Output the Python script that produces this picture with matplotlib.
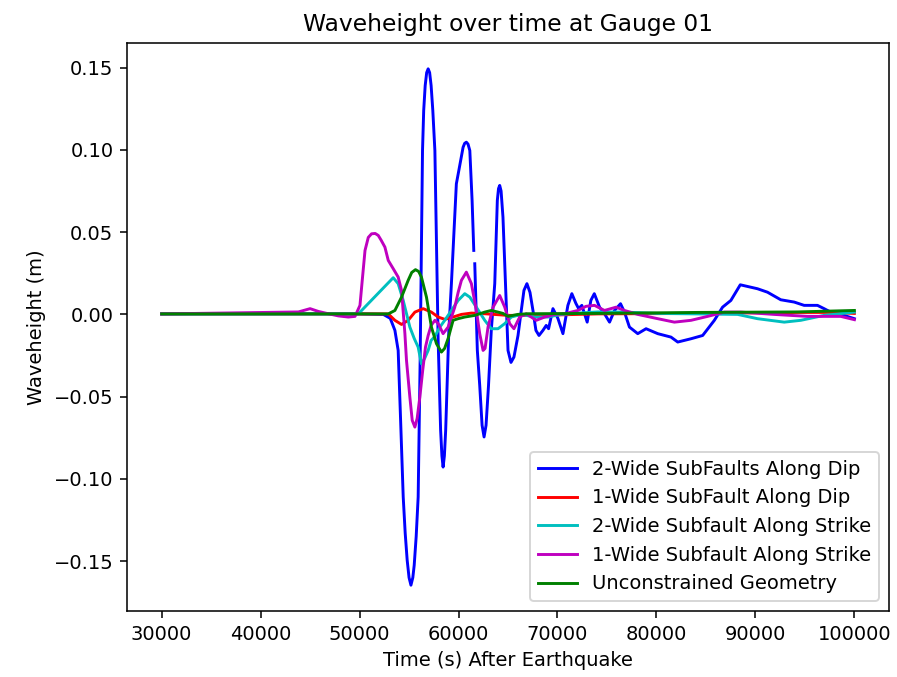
import numpy as np
import matplotlib
matplotlib.use("Agg")
import matplotlib.pyplot as plt

nan = np.nan

# 2-Wide SubFaults Along Dip
t_dip2 = [30000, 43800, 49900, 52400, 53100, 53570, 53900, 54150, 54410, 54610, 54810, 55000, 55190,
          55380, 55520, 55720, 55920, 56120, 56360, 56480, 56630, 56780, 56930, 57080, 57230, 57400,
          57610, 57940, 58190, 58320, 58440, 58570, 58700, 59020, 59280, 59780, 60030, 60460, 60620,
          60790, 60960, 61140, 61370, 61540, 61590, 61640, 61900, 62140, 62380, 62580, 62780, 63030,
          63310, 63660, 63920, 64040, 64160, 64300, 64490, 65000, 65300, 65600, 66010, 66340, 66610,
          66910, 67220, 67520, 67820, 68130, 68530, 68860, 69100, 69540, 70040,
          70550, 71050, 71450, 71860, 72130, 72460, 73000, 73370, 73720, 74250,
          74750, 75260, 75760, 76370, 76770, 77270, 78110, 78950, 80130, 81470,
          82150, 83490, 84670, 85850, 86680, 87520, 88470, 90210, 91220, 92560,
          93920, 94920, 96270, 96940, 97610, 98960, 100000]
h_dip2 = [0.0003, 0.0004, 0.0003, 0.0000, -0.0024, -0.0097, -0.0219, -0.0650, -0.1110, -0.1330, -0.1494, -0.1600, -0.1646,
          -0.1600, -0.1525, -0.1350, -0.1110, -0.0279, 0.0996, 0.1240, 0.1391, 0.1470, 0.1493, 0.1470, 0.1391, 0.1240,
          0.0996, -0.0158, -0.0705, -0.0860, -0.0928, -0.0860, -0.0705, -0.0097, 0.0187, 0.0794, 0.0875, 0.1016, 0.1040,
          0.1047, 0.1035, 0.0996, 0.0693, 0.0389, nan, 0.0308, -0.0219, -0.0431, -0.0674, -0.0745, -0.0674, -0.0431,
          -0.0097, 0.0187, 0.0693, 0.0765, 0.0784, 0.0750, 0.0591, -0.0219, -0.0292, -0.0259, -0.0128, 0.0024, 0.0146,
          0.0187, 0.0134, 0.0024, -0.0097, -0.0128, -0.0097, -0.0067, -0.0087, 0.0035, -0.0024,
          -0.0117, 0.0055, 0.0126, 0.0067, 0.0036, 0.0055, -0.0047, 0.0085, 0.0126, 0.0044,
          0.0004, -0.0047, 0.0024, 0.0065, 0.0014, -0.0077, -0.0117, -0.0087, -0.0117, -0.0138,
          -0.0168, -0.0148, -0.0128, -0.0036, 0.0044, 0.0085, 0.0180, 0.0156, 0.0135, 0.0089,
          0.0075, 0.0055, 0.0055, 0.0035, 0.0014, -0.0006, -0.0026]

# 1-Wide SubFault Along Dip
t_dip1 = [30000, 52900, 53570, 54240, 54910, 55590, 56430, 57260, 57940, 58610,
          59450, 60290, 61300, 62650, 65000, 68020, 74080, 84160, 94250, 97580, 100000]
h_dip1 = [0.0003, 0.0003, -0.0036, -0.0061, -0.0036, 0.0014, 0.0035, 0.0014, -0.0016, -0.0030,
          -0.0016, 0.0000, 0.0008, 0.0004, -0.0006, -0.0006, 0.0003, 0.0006, 0.0012, 0.0012, 0.0006]

# 2-Wide Subfault Along Strike
t_str2 = [30000, 49870, 53400, 53900, 54410, 55080, 55520, 55920, 56250, 56580,
          56930, 57230, 57610, 58110, 58610, 59280, 59960, 60630, 61140, 61800,
          62650, 63310, 63990, 64670, 65330, 66340, 67690, 69030, 70370, 72060,
          74080, 76770, 80130, 84160, 88200, 90210, 92910, 94580, 96940, 100000]
h_str2 = [0.0003, 0.0003, 0.0223, 0.0187, 0.0085, -0.0077, -0.0146, -0.0199, -0.0300, -0.0267,
          -0.0219, -0.0158, -0.0134, -0.0077, -0.0036, 0.0024, 0.0085, 0.0126, 0.0105, 0.0044,
          -0.0036, -0.0087, -0.0087, -0.0056, -0.0016, 0.0000, -0.0016, -0.0016, 0.0000, 0.0008,
          0.0015, 0.0014, 0.0006, 0.0003, 0.0000, -0.0026, -0.0047, -0.0036, -0.0006, 0.0014]

# 1-Wide Subfault Along Strike
t_str1 = [30000, 37060, 43820, 45000, 45840, 46840, 47850, 48860, 49540, 50040,
          50270, 50550, 50880, 51210, 51580, 51890, 52190, 52560, 52900, 53400,
          53900, 54240, 54580, 54740, 55080, 55320, 55590, 55820, 56090, 56380,
          56660, 56930, 57230, 57610, 57940, 58440, 58950, 59620, 59960, 60290,
          60790, 61300, 61800, 62140, 62480, 62680, 62980, 63490, 64160, 64670,
          65170, 65600, 66180, 66840, 67850, 68700, 69710, 70720, 72060, 72870,
          73740, 74750, 75920, 76770, 78110, 80130, 81810, 83490, 85170, 86860,
          88530, 91900, 95260, 98620, 100000]
h_str1 = [0.0003, 0.0009, 0.0015, 0.0035, 0.0018, 0.0004, -0.0009, -0.0016, -0.0012, 0.0055,
          0.0207, 0.0389, 0.0468, 0.0490, 0.0492, 0.0480, 0.0450, 0.0409, 0.0328, 0.0278,
          0.0227, 0.0146, -0.0117, -0.0279, -0.0502, -0.0644, -0.0685, -0.0632, -0.0502, -0.0340,
          -0.0199, -0.0128, -0.0067, -0.0036, -0.0055, -0.0117, -0.0077, 0.0044, 0.0134, 0.0207,
          0.0257, 0.0187, 0.0024, -0.0117, -0.0219, -0.0207, -0.0077, 0.0044, 0.0115, 0.0044,
          -0.0056, -0.0087, -0.0016, 0.0004, -0.0036, -0.0016, 0.0000, 0.0004, 0.0024, 0.0049,
          0.0055, 0.0024, 0.0044, 0.0024, 0.0000, -0.0026, -0.0047, -0.0036, -0.0012, 0.0014,
          0.0014, 0.0000, -0.0012, -0.0012, -0.0032]

# Unconstrained Geometry
t_free = [30000, 52900, 53570, 54240, 54910, 55270, 55650, 55970, 56250, 56760,
          57260, 57770, 58270, 58590, 58950, 59450, 59960, 60630, 61640, 62650,
          63310, 63990, 64490, 65000, 65980, 67020, 74080, 84160, 94250, 100000]
h_free = [0.0003, 0.0003, 0.0024, 0.0105, 0.0207, 0.0255, 0.0272, 0.0261, 0.0227, 0.0105,
          -0.0077, -0.0178, -0.0229, -0.0207, -0.0146, -0.0036, -0.0026, -0.0016, -0.0006, 0.0014,
          0.0024, 0.0014, 0.0006, -0.0012, 0.0000, 0.0004, 0.0006, 0.0012, 0.0015, 0.0024]

series = [
    (t_dip2, h_dip2, "b", "2-Wide SubFaults Along Dip"),
    (t_dip1, h_dip1, "r", "1-Wide SubFault Along Dip"),
    (t_str2, h_str2, "c", "2-Wide Subfault Along Strike"),
    (t_str1, h_str1, "m", "1-Wide Subfault Along Strike"),
    (t_free, h_free, "g", "Unconstrained Geometry"),
]

plt.rcParams["font.family"] = ["DejaVu Sans"]
plt.rcParams["font.size"] = 10

fig = plt.figure(figsize=(897 / 140, 677 / 140), dpi=140)
ax = fig.add_axes([0.1416, 0.0975, 0.8495, 0.839])

for t, h, c, lab in series:
    ax.plot(t, h, color=c, linewidth=1.5, label=lab, solid_joinstyle="round")

ax.set_title("Waveheight over time at Gauge 01")
ax.set_xlabel("Time (s) After Earthquake")
ax.set_ylabel("Waveheight (m)")
ax.legend(loc="lower right")

fig.savefig("out.png", dpi=140)
